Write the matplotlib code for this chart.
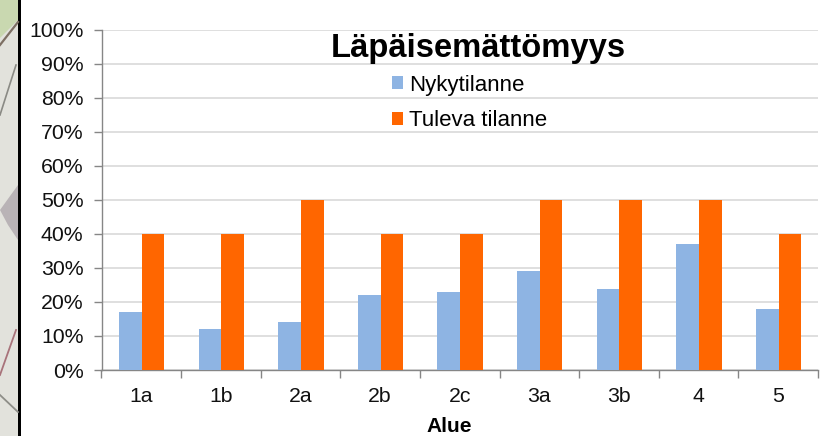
import numpy as np
import matplotlib
matplotlib.use("Agg")
import matplotlib.pyplot as plt
from matplotlib.lines import Line2D
from matplotlib.patches import Polygon, Rectangle

categories = ["1a", "1b", "2a", "2b", "2c", "3a", "3b", "4", "5"]
nykytilanne = [17, 12, 14, 22, 23, 29, 23.7, 37, 18]
tuleva = [40, 40, 50, 40, 40, 50, 50, 50, 40]
yticks = list(range(0, 101, 10))

W, H = 823, 436
plt.rcParams["font.family"] = ["Liberation Sans", "DejaVu Sans"]

fig = plt.figure(figsize=(W / 100, H / 100), dpi=100)


def px(points):
    return [(a / W, 1 - b / H) for a, b in points]


# map scrap on the left edge of the screenshot
fig.add_artist(Rectangle((0, 0), 18 / W, 1, transform=fig.transFigure, color="#e2e2dc", lw=0))
fig.add_artist(Polygon(px([(0, 0), (18, 0), (18, 20), (0, 38)]), transform=fig.transFigure,
                       color="#c9d8b0", lw=0))
fig.add_artist(Polygon(px([(0, 210), (18, 185), (18, 240), (8, 225)]), transform=fig.transFigure,
                       color="#b9b3b6", lw=0))
for pts, col, lw in [
    ([(0, 45), (18, 22)], "#7d6f63", 1.6),
    ([(0, 115), (16, 65)], "#8a8a84", 1.2),
    ([(0, 375), (16, 330)], "#a8737a", 1.3),
    ([(0, 395), (18, 412)], "#8e8e88", 1.3),
]:
    (x0, y0), (x1, y1) = px(pts)
    fig.add_artist(Line2D([x0, x1], [y0, y1], transform=fig.transFigure, color=col, lw=lw))
fig.add_artist(Rectangle((18 / W, 0), 2.5 / W, 1, transform=fig.transFigure, color="black", lw=0))

ax = fig.add_axes([101.5 / W, 1 - 370 / H, (818 - 101.5) / W, (370 - 29.5) / H])

x = np.arange(len(categories))
bw = 0.285
ax.bar(x - bw / 2 + 0.005, nykytilanne, bw, color="#8eb4e3", label="Nykytilanne", zorder=3)
ax.bar(x + bw / 2 + 0.005, tuleva, bw, color="#ff6600", label="Tuleva tilanne", zorder=3)

ax.set_xlim(-0.5, len(categories) - 0.5)
ax.set_ylim(0, 100)
ax.set_yticks(yticks)
ax.set_yticklabels([f"{v}%" for v in yticks], fontsize=15.3, color="#111111")
ax.set_xticks(x)
ax.set_xticklabels(categories, fontsize=15.3, color="#111111")
ax.set_xticks(np.arange(len(categories) + 1) - 0.5, minor=True)

ax.grid(axis="y", color="#dcdcdc", lw=1.3, zorder=0)
ax.set_axisbelow(True)
ax.tick_params(axis="x", which="major", length=0, pad=12)
ax.tick_params(axis="x", which="minor", length=6, color="#868686", width=1)
ax.tick_params(axis="y", length=6, color="#868686", width=1, pad=7)
for s in ["top", "right"]:
    ax.spines[s].set_visible(False)
for s in ["left", "bottom"]:
    ax.spines[s].set_color("#868686")
    ax.spines[s].set_linewidth(1)

ax.set_xlabel("Alue", fontsize=15, fontweight="bold", labelpad=8.5, x=0.4857)
fig.text(478 / W, 1 - 48 / H, "Läpäisemättömyys", fontsize=23.6, fontweight="bold",
         ha="center", va="center")

leg = ax.legend(loc="upper left", bbox_to_anchor=(290.5 / 716.5, 1 - 45 / 340.5), frameon=False,
                fontsize=16, handlelength=0.5, handleheight=0.5, handletextpad=0.27,
                labelspacing=0.66, borderpad=0, borderaxespad=0)

fig.savefig("out.png", dpi=100)
